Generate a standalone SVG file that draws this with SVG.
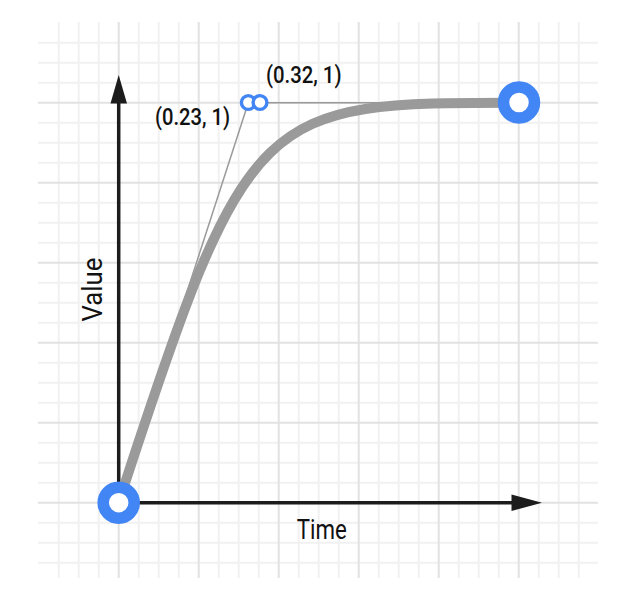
<svg xmlns="http://www.w3.org/2000/svg" width="640" height="600" viewBox="0 0 640 600">
<style>
.minor{stroke:#f1f1f1;stroke-width:2}
.major{stroke:#e2e2e2;stroke-width:2}
.axis{stroke:#1c1c1c;stroke-width:3.5;fill:none}
.head{fill:#1c1c1c}
.handle{stroke:#9a9a9a;stroke-width:1.5;fill:none}
.curve{stroke:#9a9a9a;stroke-width:10;fill:none}
.endpt{fill:#fff;stroke:#4285f4;stroke-width:11.5}
.ctrl{fill:#fff;stroke:#4285f4;stroke-width:3.4}
.lbl{font-family:Roboto,"Liberation Sans",sans-serif;font-weight:500;fill:#111}
.ax{font-family:Roboto,"Liberation Sans",sans-serif;font-weight:400;fill:#111}
</style>
<rect width="640" height="600" fill="#fff"/>
<g id="grid">
<g class="minor">
<path d="M58.7 22V578M78.7 22V578M98.7 22V578M138.7 22V578M158.7 22V578M178.7 22V578M218.7 22V578M238.7 22V578M258.7 22V578M298.7 22V578M318.7 22V578M338.7 22V578M378.7 22V578M398.7 22V578M418.7 22V578M458.7 22V578M478.7 22V578M498.7 22V578M538.7 22V578M558.7 22V578M578.7 22V578"/>
<path d="M38 42.7H598M38 62.7H598M38 82.7H598M38 122.7H598M38 142.7H598M38 162.7H598M38 202.7H598M38 222.7H598M38 242.7H598M38 282.7H598M38 302.7H598M38 322.7H598M38 362.7H598M38 382.7H598M38 402.7H598M38 442.7H598M38 462.7H598M38 482.7H598M38 522.7H598M38 542.7H598M38 562.7H598"/>
</g>
<g class="major">
<path d="M118.7 22V578M198.7 22V578M278.7 22V578M358.7 22V578M438.7 22V578M518.7 22V578"/>
<path d="M38 102.7H598M38 182.7H598M38 262.7H598M38 342.7H598M38 422.7H598M38 502.7H598"/>
</g>
</g>
<g id="axes">
<path class="axis" d="M118.7 502.7V100M118.7 502.7H514"/>
<polygon class="head" points="118.7,75 110.5,103.5 127,103.5"/>
<polygon class="head" points="542,502.7 511.5,494.5 511.5,511"/>
<text class="ax" x="321.7" y="539.3" font-size="27" text-anchor="middle" textLength="50" lengthAdjust="spacingAndGlyphs">Time</text>
<text class="ax" transform="translate(101.7,289.6) rotate(-90)" x="0" y="0" font-size="27" text-anchor="middle" textLength="64" lengthAdjust="spacingAndGlyphs">Value</text>
</g>
<g id="connectors">
<path class="handle" d="M118.7 502.7L248.3 102.7"/>
<path class="handle" d="M260 102.7H518.7"/>
<path class="curve" d="M118.7 502.7C248.3 102.7 260 102.7 518.7 102.7"/>
</g>
<g id="start">
<circle class="endpt" cx="118.7" cy="502.7" r="15.5"/>
</g>
<g id="end">
<circle class="endpt" cx="519" cy="102.5" r="15.5"/>
</g>
<g id="cp1">
<circle class="ctrl" cx="248.3" cy="102.5" r="6.9"/>
<text class="lbl" x="155" y="125" font-size="23.5" textLength="75" lengthAdjust="spacingAndGlyphs">(0.23, 1)</text>
</g>
<g id="cp2">
<circle class="ctrl" cx="260" cy="102.5" r="6.9"/>
<text class="lbl" x="266" y="83" font-size="23.5" textLength="75.5" lengthAdjust="spacingAndGlyphs">(0.32, 1)</text>
</g>
</svg>
